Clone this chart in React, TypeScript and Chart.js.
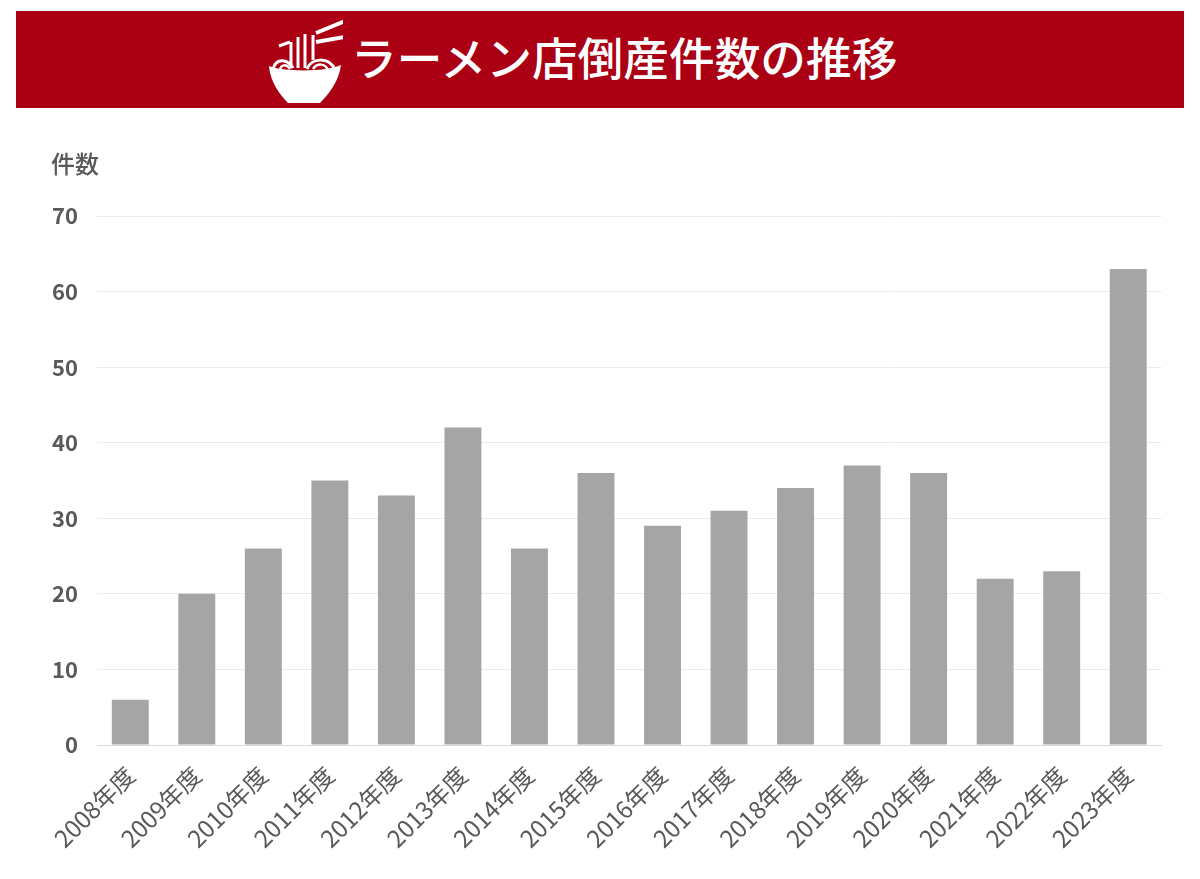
import React, { useEffect, useRef } from "react";
import { Chart, registerables } from "chart.js";

Chart.register(...registerables);

const categories = ["2008年度","2009年度","2010年度","2011年度","2012年度","2013年度","2014年度","2015年度","2016年度","2017年度","2018年度","2019年度","2020年度","2021年度","2022年度","2023年度"];
const counts = [6,20,26,35,33,42,26,36,29,31,34,37,36,22,23,63];
const titleText = "ラーメン店倒産件数の推移";
const unitLabel = "件数";
const FONT = '"Noto Sans CJK JP", "Noto Sans", sans-serif';

function BowlIcon() {
  return (
    <svg width="76" height="90" viewBox="0 0 76 90" style={{ position: "absolute", left: 267, top: 16 }}>
      <g stroke="#fff" fill="none" strokeLinecap="butt">
        <path d="M49 17 L83 3" strokeWidth="4" />
        <path d="M49 26 L83 20" strokeWidth="4" />
        <path d="M12 30 L23 26" strokeWidth="3" />
        <path d="M24 52 V26" strokeWidth="3" />
        <path d="M31 52 V21" strokeWidth="3" />
        <path d="M38 52 V18" strokeWidth="3" />
        <path d="M46 44 V19" strokeWidth="3" />
        <path d="M6 54 C8 42 20 42 26 52" strokeWidth="3" />
        <path d="M13 54 C14 48 20 48 23 53" strokeWidth="2.5" />
        <path d="M40 53 C44 42 62 40 68 54" strokeWidth="3" />
        <path d="M46 53 C50 47 58 47 61 54" strokeWidth="2.5" />
      </g>
      <path d="M2 50 C16 56 60 56 74 49 C72 66 60 80 53 87 L21 87 C14 80 3 66 2 50 Z" fill="#fff" />
    </svg>
  );
}

export default function App() {
  const ref = useRef<HTMLCanvasElement | null>(null);

  useEffect(() => {
    if (!ref.current) return;
    const chart = new Chart(ref.current, {
      type: "bar",
      data: {
        labels: categories,
        datasets: [{
          data: counts,
          backgroundColor: "#a5a5a5",
          barPercentage: 0.555,
          categoryPercentage: 1,
        }],
      },
      options: {
        responsive: false,
        animation: false,
        devicePixelRatio: 1,
        layout: { padding: { top: 216, right: 38.5, left: 0, bottom: 0 } },
        plugins: { legend: { display: false }, tooltip: { enabled: false }, title: { display: false } },
        scales: {
          x: {
            afterFit: (axis: any) => { axis.height = 134; },
            grid: { display: false, drawTicks: false },
            border: { color: "#d9d9d9", width: 1 },
            ticks: {
              color: "#595959",
              font: { family: FONT, size: 24, weight: "normal" },
              maxRotation: 45,
              minRotation: 45,
              autoSkip: false,
              padding: 16,
            },
          },
          y: {
            min: 0,
            max: 70,
            afterFit: (axis: any) => { axis.width = 97; },
            grid: { color: "#ececec", lineWidth: 1, drawTicks: false },
            border: { display: false },
            ticks: {
              stepSize: 10,
              color: "#595959",
              font: { family: FONT, size: 22, weight: "bold" },
              padding: 19,
            },
          },
        },
      },
    });
    return () => chart.destroy();
  }, []);

  return (
    <div style={{ position: "absolute", left: 0, top: 0, width: 1200, height: 879, background: "#fff", overflow: "hidden" }}>
      <canvas ref={ref} width={1200} height={879} style={{ position: "absolute", left: 0, top: 0, display: "block" }} />
      <div style={{ position: "absolute", left: 16, top: 11, width: 1168, height: 97, background: "#ab0014" }} />
      <BowlIcon />
      <div style={{ position: "absolute", left: 351, top: 23, height: 66, lineHeight: "66px", fontFamily: FONT, fontSize: 45.7, fontWeight: 500, color: "#fff", whiteSpace: "nowrap" }}>
        {titleText}
      </div>
      <div style={{ position: "absolute", left: 51, top: 148, lineHeight: "30px", fontFamily: FONT, fontSize: 24, fontWeight: 500, color: "#595959", whiteSpace: "nowrap" }}>
        {unitLabel}
      </div>
    </div>
  );
}
